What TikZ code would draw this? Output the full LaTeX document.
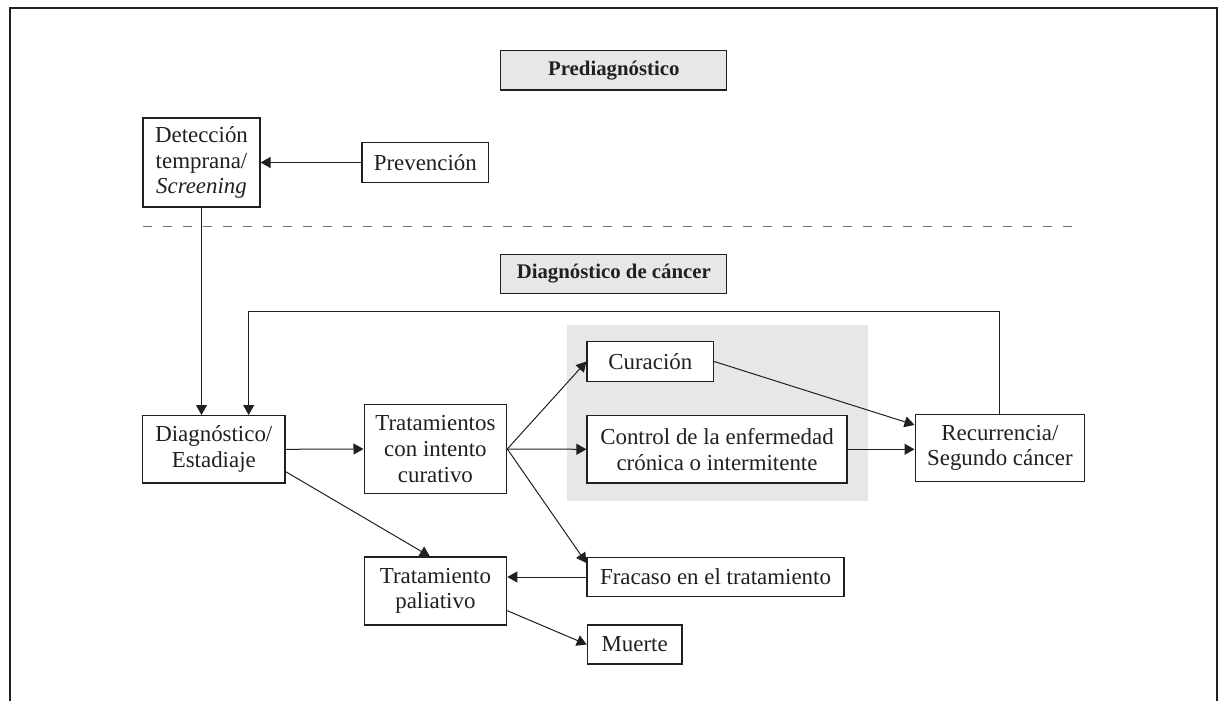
\documentclass[tikz,border=0pt]{standalone}
\usepackage{fontspec}
\setmainfont{Liberation Serif}
\usetikzlibrary{arrows.meta,calc}
\definecolor{ink}{HTML}{231F20}
\definecolor{panel}{HTML}{E6E7E8}
\definecolor{dashgray}{HTML}{6D6E71}
\begin{document}
\begin{tikzpicture}[x=0.5pt,y=-0.5pt,
  every node/.style={text=ink},
  box/.style={draw=ink,line width=0.6pt,fill=white,inner sep=0pt,align=center,
    font=\fontsize{11.45pt}{12.85pt}\selectfont},
  headbox/.style={draw=ink,line width=0.6pt,fill=panel,inner sep=0pt,align=center,
    font=\fontsize{10.4pt}{12pt}\selectfont\bfseries,minimum width=113pt,minimum height=19.6pt},
  link/.style={draw=ink,line width=0.5pt},
  arr/.style={link,-{Triangle[length=5pt,width=5.5pt]}}]
\useasboundingbox (0,0) rectangle (1222,701);

% outer frame, open at the bottom
\draw[ink,line width=1pt] (10,705) -- (10,8.5) -- (1216.5,8.5) -- (1216.5,705);

% separator between the two phases
\draw[dashgray,line width=0.6pt,dash pattern=on 4.6pt off 5.4pt] (143,226.5) -- (1080,226.5);

% shaded band behind the outcomes of curative treatment
\fill[panel] (567,325) rectangle (868,501);

% phase headings
\node[headbox] (pre) at (613.8,70.5) {Prediagnóstico};
\node[headbox] (dxc) at (613.8,273.8) {Diagnóstico de cáncer};

% boxes
\node[box,minimum width=58.5pt,minimum height=44.5pt] (det) at (201.5,162.5)
  {Detección\\temprana/\\\textit{Screening}};
\node[box,minimum width=63.3pt,minimum height=19.7pt] (prev) at (425.3,162.5) {Prevención};
\node[box,minimum width=71.2pt,minimum height=33.7pt] (diag) at (213.8,449.3)
  {Diagnóstico/\\Estadiaje};
\node[box,minimum width=71.3pt,minimum height=44.8pt] (trat) at (435.4,449)
  {Tratamientos\\con intento\\curativo};
\node[box,minimum width=63.3pt,minimum height=19.7pt] (cur) at (650.3,361.5) {Curación};
\node[box,minimum width=130pt,minimum height=33.7pt] (ctrl) at (717,449.3)
  {Control de la enfermedad\\crónica o intermitente};
\node[box,minimum width=84.8pt,minimum height=33.8pt] (rec) at (999.9,447.9)
  {Recurrencia/\\Segundo cáncer};
\node[box,minimum width=128.5pt,minimum height=19.8pt] (frac) at (715.5,577)
  {Fracaso en el tratamiento};
\node[box,minimum width=71.3pt,minimum height=34pt] (pal) at (435.4,591)
  {Tratamiento\\paliativo};
\node[box,minimum width=47.3pt,minimum height=19.5pt] (muerte) at (634.7,644.5) {Muerte};

% connectors
\coordinate (fb) at (248.7,311.7);
\draw[arr] (prev.west) -- (det.east);
\draw[arr] (det.south) -- (det.south |- diag.north);
\draw[arr] (rec.north) |- (fb) -- (fb |- diag.north);
\draw[arr] (diag.east) -- (trat.west);
\draw[arr] ($(diag.south east)+(0,-12)$) -- ($(pal.north)+(-5.5,0)$);
\draw[arr] (trat.east) -- (cur.west);
\draw[arr] (trat.east) -- (ctrl.west);
\draw[arr] (trat.east) -- ($(frac.west)+(0,-14)$);
\draw[arr] (cur.east) -- ($(rec.west)+(0,-23)$);
\draw[arr] (ctrl.east) -- (ctrl.east -| rec.west);
\draw[arr] (frac.west) -- (frac.west -| pal.east);
\draw[arr] ($(pal.east)+(0,19.7)$) -- (muerte.west);
\end{tikzpicture}
\end{document}
